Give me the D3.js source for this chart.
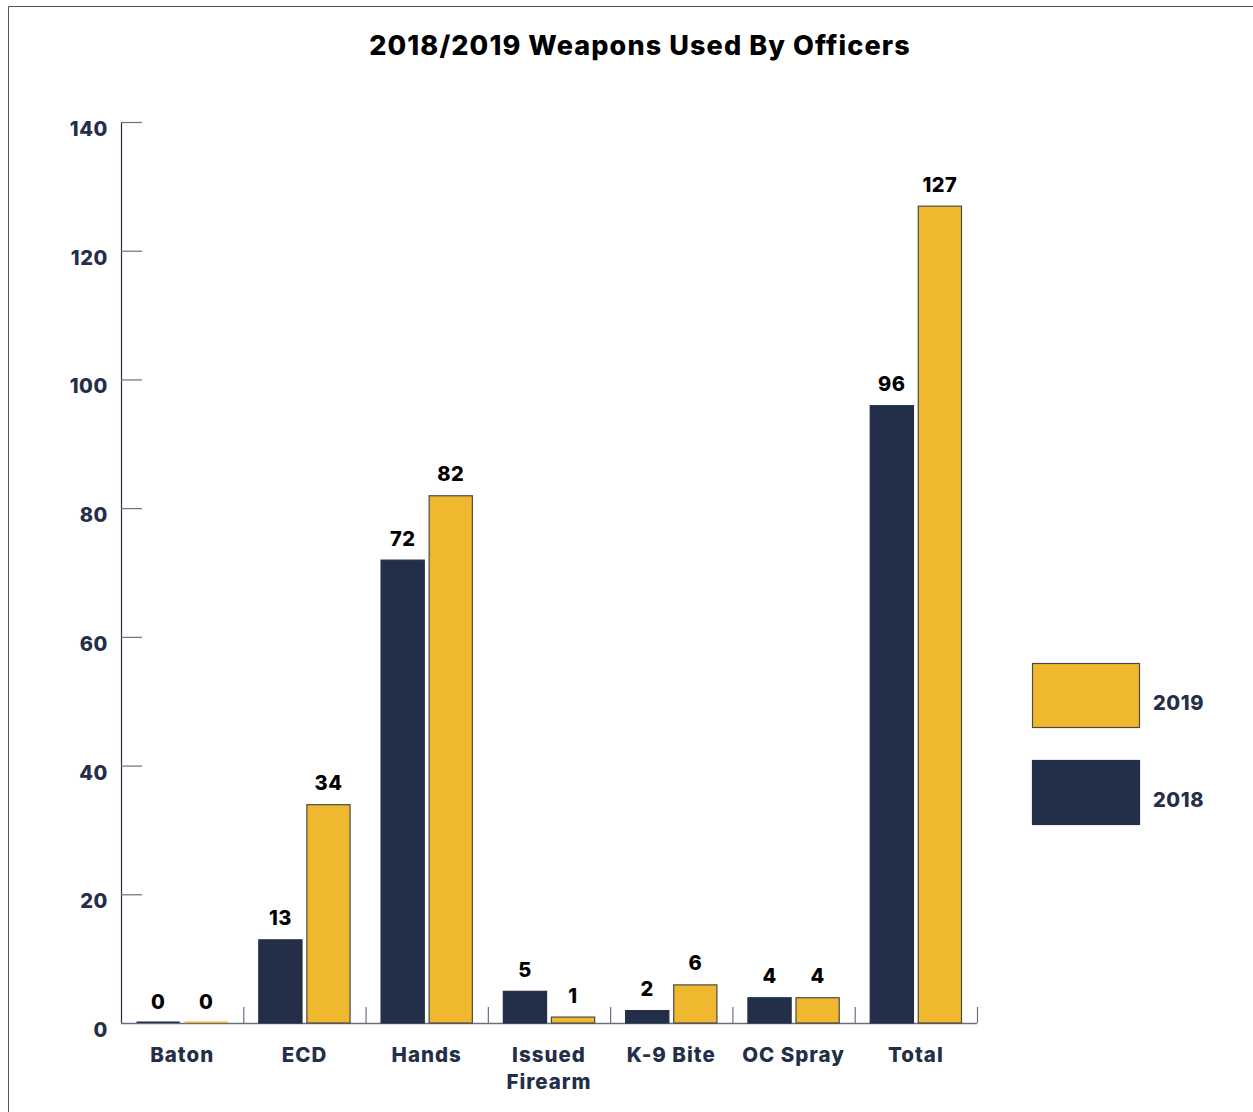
<!DOCTYPE html>
<html>
<head>
<meta charset="utf-8">
<script src="https://cdn.jsdelivr.net/npm/d3@7"></script>
<style>
  html, body { margin: 0; padding: 0; background: #fff; }
  svg { display: block; }
  text { font-family: Inter, "Open Sans", sans-serif; }
</style>
</head>
<body>
<svg id="chart" width="1253" height="1112"></svg>
<script>
// Weapons used by officers, 2018 vs 2019
const categories = ["Baton", "ECD", "Hands", "Issued Firearm", "K-9 Bite", "OC Spray", "Total"];
const seriesNames = ["2018", "2019"];
const values2018 = [0, 13, 72, 5, 2, 4, 96];
const values2019 = [0, 34, 82, 1, 6, 4, 127];
const yTicks = [0, 20, 40, 60, 80, 100, 120, 140];

const colors = { "2018": "#232e48", "2019": "#efb82e" };
const strokes = { "2018": "#232e48", "2019": "#4a4a4a" };
const navy = "#232e48";

const svg = d3.select("#chart");

// outer frame
svg.append("path")
  .attr("d", "M8.5,1112 V6.5 H1253")
  .attr("fill", "none").attr("stroke", "#555").attr("stroke-width", 1);

// title
svg.append("text")
  .attr("x", 640).attr("y", 55)
  .attr("text-anchor", "middle")
  .attr("font-size", 27).attr("font-weight", 800)
  .attr("letter-spacing", 1.1)
  .attr("fill", "#000")
  .text("2018/2019 Weapons Used By Officers");

const plot = { left: 121, right: 977, top: 122, bottom: 1023 };

const x0 = d3.scaleBand().domain(categories).range([plot.left, plot.right]).padding(0);
const x1 = d3.scaleBand().domain(seriesNames).range([15, x0.bandwidth() - 15]).paddingInner(0.08);
const y = d3.scaleLinear().domain([0, 140]).range([plot.bottom, plot.top]);

// y axis line
svg.append("line")
  .attr("x1", plot.left + 0.5).attr("x2", plot.left + 0.5)
  .attr("y1", plot.top).attr("y2", plot.bottom)
  .attr("stroke", navy).attr("stroke-width", 1.2);

// y ticks (short stubs to the right) and labels
const yg = svg.append("g");
yg.selectAll("line.tick").data(yTicks.filter(d => d > 0)).join("line")
  .attr("class", "tick")
  .attr("x1", plot.left).attr("x2", plot.left + 21)
  .attr("y1", d => y(d) + 0.5).attr("y2", d => y(d) + 0.5)
  .attr("stroke", "#6b7080").attr("stroke-width", 1.2);
yg.selectAll("text").data(yTicks).join("text")
  .attr("x", 108).attr("y", d => y(d) + 14)
  .attr("text-anchor", "end")
  .attr("font-size", 20).attr("font-weight", 800)
  .attr("letter-spacing", 0.6)
  .attr("fill", navy)
  .text(d => d);

// x axis line and category separators
svg.append("line")
  .attr("x1", plot.left).attr("x2", plot.right)
  .attr("y1", plot.bottom + 0.5).attr("y2", plot.bottom + 0.5)
  .attr("stroke", "#6b7080").attr("stroke-width", 1.5);
svg.append("g").selectAll("line").data(categories).join("line")
  .attr("x1", d => x0(d) + x0.bandwidth() + 0.5)
  .attr("x2", d => x0(d) + x0.bandwidth() + 0.5)
  .attr("y1", plot.bottom).attr("y2", plot.bottom - 16)
  .attr("stroke", "#6b7080").attr("stroke-width", 1.2);

// category labels (wrapped onto two lines where needed)
const catLabels = svg.append("g").selectAll("text").data(categories).join("text")
  .attr("x", d => x0(d) + x0.bandwidth() / 2)
  .attr("y", 1062)
  .attr("text-anchor", "middle")
  .attr("font-size", 20.5).attr("font-weight", 800)
  .attr("letter-spacing", 1)
  .attr("fill", navy);
catLabels.each(function(d) {
  const words = d === "Issued Firearm" ? ["Issued", "Firearm"] : [d];
  d3.select(this).selectAll("tspan").data(words).join("tspan")
    .attr("x", x0(d) + x0.bandwidth() / 2)
    .attr("dy", (w, i) => i === 0 ? 0 : 27)
    .text(w => w);
});

// bars
const rows = categories.map((c, i) => ({
  cat: c,
  items: [
    { series: "2018", value: values2018[i] },
    { series: "2019", value: values2019[i] }
  ]
}));

const groups = svg.append("g").selectAll("g").data(rows).join("g")
  .attr("transform", d => `translate(${x0(d.cat)},0)`);

groups.selectAll("rect").data(d => d.items).join("rect")
  .attr("x", d => x1(d.series) + 0.5)
  .attr("y", d => d.value === 0 ? y(0) - 1.5 : y(d.value) + 0.5)
  .attr("width", x1.bandwidth() - 1)
  .attr("height", d => d.value === 0 ? 1.5 : y(0) - y(d.value) - 0.5)
  .attr("fill", d => colors[d.series])
  .attr("stroke", d => d.value === 0 ? "none" : strokes[d.series])
  .attr("stroke-width", 1.2);

groups.selectAll("text").data(d => d.items).join("text")
  .attr("x", d => x1(d.series) + x1.bandwidth() / 2)
  .attr("y", d => y(d.value) - 14)
  .attr("text-anchor", "middle")
  .attr("font-size", 20).attr("font-weight", 800)
  .attr("letter-spacing", 0.5)
  .attr("fill", "#000")
  .text(d => d.value);

// legend
const legendItems = [
  { series: "2019", y: 663 },
  { series: "2018", y: 760 }
];
const lg = svg.append("g").selectAll("g").data(legendItems).join("g");
lg.append("rect")
  .attr("x", 1032.5).attr("y", d => d.y + 0.5)
  .attr("width", 107).attr("height", 64)
  .attr("fill", d => colors[d.series])
  .attr("stroke", d => d.series === "2019" ? "#4a4a4a" : colors[d.series])
  .attr("stroke-width", 1.2);
lg.append("text")
  .attr("x", 1153).attr("y", d => d.y + 47)
  .attr("font-size", 20).attr("font-weight", 800)
  .attr("letter-spacing", 0.6)
  .attr("fill", navy)
  .text(d => d.series);
</script>
</body>
</html>
